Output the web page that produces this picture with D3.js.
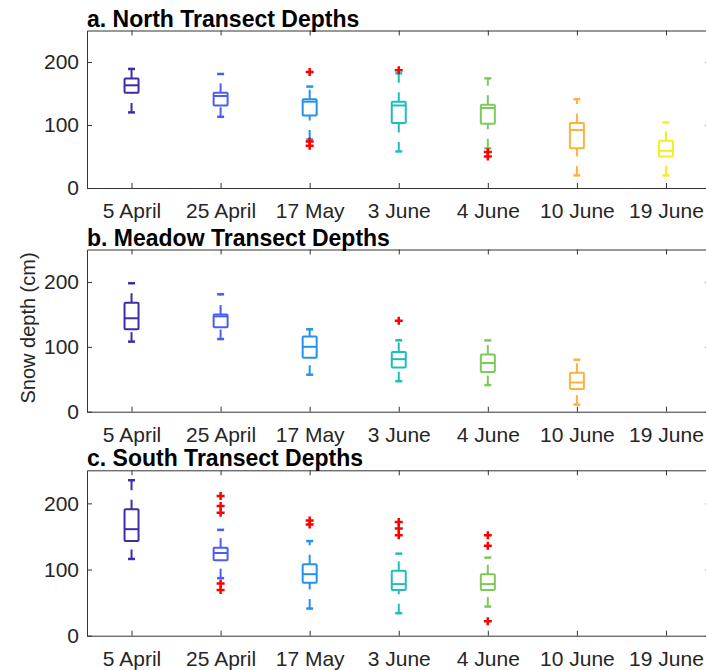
<!DOCTYPE html>
<html>
<head>
<meta charset="utf-8">
<script src="https://cdn.jsdelivr.net/npm/d3@7"></script>
<style>
  body { margin: 0; background: #fff; }
  text { font-family: "Liberation Sans", Arial, Helvetica, sans-serif; fill: #262626; }
</style>
</head>
<body>
<script>
// survey dates (x categories) and one colour per date
var dates = ['5 April', '25 April', '17 May', '3 June', '4 June', '10 June', '19 June'];
var dateColors = ['#3e2ca8', '#4a5df5', '#2592ee', '#1ebfba', '#7dca58', '#fbb33b', '#f4ef1c'];
var yTicks = [0, 100, 200];

// box stats per date: [lower whisker, q1, median, q3, upper whisker]
var northStats = [
    [120, 151, 163, 174, 189],
    [113, 131, 146, 151, 181],
    [77, 115, 137, 141, 161],
    [58, 103, 131, 137, 182],
    [63, 102, 127, 132, 174],
    [20, 63, 92, 103, 141],
    [20, 50, 59, 75, 104]
];
var northOutliers = [[], [], [184, 74, 67], [187], [57, 50], [], []];

var meadowStats = [
    [108, 127, 144, 168, 198],
    [112, 130, 147, 150, 181],
    [57, 83, 100, 116, 127],
    [47, 68, 81, 92, 110],
    [41, 61, 75, 88, 110],
    [11, 35, 45, 60, 80],
    null
];
var meadowOutliers = [[], [], [], [140], [], [], []];

var southStats = [
    [116, 143, 161, 191, 235],
    [87, 114, 125, 133, 160],
    [41, 80, 93, 108, 143],
    [34, 69, 78, 98, 124],
    [44, 69, 78, 93, 118],
    null,
    null
];
var southOutliers = [[], [211, 196, 186, 79, 69], [174, 168], [172, 162, 152], [152, 136, 22], [], []];

// page layout
var width = 706, height = 670;
var plotLeft = 87, plotRight = 710.5;
var axisColor = '#333';

var svg = d3.select('body').append('svg')
    .attr('width', width)
    .attr('height', height);

var panels = [
    {title: 'a. North Transect Depths', stats: northStats, outliers: northOutliers, top: 30.5, bottom: 188},
    {title: 'b. Meadow Transect Depths', stats: meadowStats, outliers: meadowOutliers, top: 249.5, bottom: 411.7},
    {title: 'c. South Transect Depths', stats: southStats, outliers: southOutliers, top: 470.3, bottom: 635.7}
];

var x = d3.scalePoint()
    .domain(dates)
    .range([plotLeft, plotRight])
    .padding(0.5);

var boxWidth = 14, capWidth = 7;

panels.forEach(function(p) {
    var y = d3.scaleLinear().domain([0, 250]).range([p.bottom, p.top]);
    var g = svg.append('g');

    // frame with inward ticks on all four sides
    var bottomAxis = g.append('g')
        .attr('transform', 'translate(0,' + p.bottom + ')')
        .call(d3.axisBottom(x).tickSizeInner(-5).tickSizeOuter(0).tickPadding(15));
    bottomAxis.selectAll('text').style('font-size', '21px');

    g.append('g')
        .attr('transform', 'translate(0,' + p.top + ')')
        .call(d3.axisTop(x).tickSizeInner(-5).tickSizeOuter(0).tickFormat(''));

    var leftAxis = g.append('g')
        .attr('transform', 'translate(' + plotLeft + ',0)')
        .call(d3.axisLeft(y).tickValues(yTicks).tickSizeInner(-5).tickSizeOuter(0).tickPadding(8));
    leftAxis.selectAll('text').style('font-size', '21px');

    g.append('g')
        .attr('transform', 'translate(' + plotRight + ',0)')
        .call(d3.axisRight(y).tickValues(yTicks).tickSizeInner(-5).tickSizeOuter(0).tickFormat(''));

    g.selectAll('.domain, .tick line').attr('stroke', axisColor).attr('stroke-width', 1);
    g.selectAll('.tick text').attr('fill', '#262626');

    g.append('text')
        .attr('x', plotLeft)
        .attr('y', p.top - 4)
        .style('font-size', '23px')
        .style('font-weight', 'bold')
        .style('fill', '#000')
        .text(p.title);

    // boxes
    p.stats.forEach(function(s, i) {
        if (!s) return;
        var cx = x(dates[i]);
        var col = dateColors[i];
        var b = g.append('g').attr('fill', 'none').attr('stroke', col).attr('stroke-width', 2);

        // whiskers are dashed, drawn upwards in value
        b.append('line')
            .attr('x1', cx).attr('x2', cx)
            .attr('y1', y(s[3])).attr('y2', y(s[4]))
            .attr('stroke-dasharray', '9.5,9.5');
        b.append('line')
            .attr('x1', cx).attr('x2', cx)
            .attr('y1', y(s[0])).attr('y2', y(s[1]))
            .attr('stroke-dasharray', '9.5,9.5');

        // caps
        [s[0], s[4]].forEach(function(v) {
            b.append('line')
                .attr('x1', cx - capWidth / 2).attr('x2', cx + capWidth / 2)
                .attr('y1', y(v)).attr('y2', y(v))
                .attr('stroke-width', 2.5);
        });

        b.append('rect')
            .attr('x', cx - boxWidth / 2)
            .attr('y', y(s[3]))
            .attr('width', boxWidth)
            .attr('height', y(s[1]) - y(s[3]))
            .attr('rx', 1);

        b.append('line')
            .attr('x1', cx - boxWidth / 2).attr('x2', cx + boxWidth / 2)
            .attr('y1', y(s[2])).attr('y2', y(s[2]));
    });

    // outliers as red plus signs
    p.outliers.forEach(function(list, i) {
        var cx = x(dates[i]);
        g.selectAll(null)
            .data(list)
            .enter()
            .append('path')
            .attr('d', function(v) {
                var cy = y(v);
                return 'M' + (cx - 4) + ',' + cy + 'H' + (cx + 4) + 'M' + cx + ',' + (cy - 4) + 'V' + (cy + 4);
            })
            .attr('stroke', '#ff0000')
            .attr('stroke-width', 2.5)
            .attr('fill', 'none');
    });
});

svg.append('text')
    .attr('transform', 'translate(35,328) rotate(-90)')
    .attr('text-anchor', 'middle')
    .style('font-size', '20px')
    .text('Snow depth (cm)');
</script>
</body>
</html>
